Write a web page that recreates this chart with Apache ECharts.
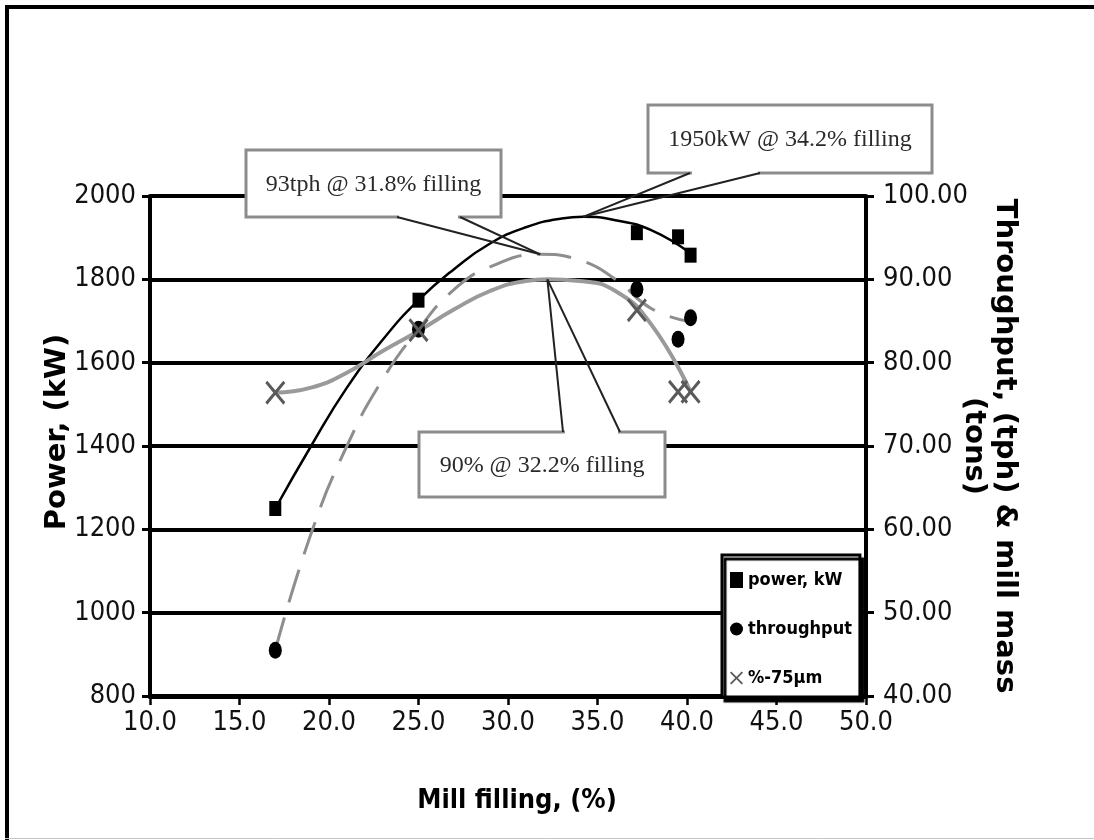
<!DOCTYPE html>
<html>
<head>
<meta charset="utf-8">
<script src="https://cdn.jsdelivr.net/npm/echarts@6/dist/echarts.min.js"></script>
<style>
  html, body { margin: 0; padding: 0; background: #fff; overflow: hidden; }
  #chart { width: 1094px; height: 840px; }
</style>
</head>
<body>
<div id="chart"></div>
<script>
// Survey points: mill filling (%) against measured power and product
const powerFilling = [17, 25, 37.2, 39.5, 40.2];
const powerKW = [1250, 1750, 1912, 1902, 1858];

const throughputFilling = [17, 25, 37.2, 39.5, 40.2];
const throughputTph = [45.5, 84, 88.8, 82.8, 85.4];

const finesFilling = [17, 25, 37.2, 39.5, 40.2];
const finesPct = [76.4, 83.9, 86.3, 76.5, 76.5];

// Fitted trend lines
const powerTrendFilling = [17, 19, 21, 23, 25, 27, 29, 31, 33, 34.2, 36, 38, 40.2];
const powerTrendKW = [1250, 1400, 1540, 1655, 1750, 1825, 1886, 1925, 1946, 1950, 1942, 1918, 1862];

const throughputTrendFilling = [17, 19, 21, 23, 25, 27, 29, 31.8, 34, 36, 38, 40];
const throughputTrendTph = [45.5, 59.5, 70, 78, 84, 88.8, 91.5, 93, 92.3, 90, 86.5, 85];

const finesTrendFilling = [17, 19, 21, 23, 25, 27, 29, 31, 32.2, 34, 36, 38, 40.2];
const finesTrendPct = [76.4, 77, 78.8, 81.4, 83.8, 86.4, 88.6, 89.8, 90, 89.8, 88.6, 84.6, 76.5];

// Optimum points called out on the chart: [filling %, value]
const powerPeak = [34.2, 1950];
const throughputPeak = [31.8, 93];
const finesPeak = [32.2, 90];

// Legend / series names
const seriesNames = ['power, kW', 'throughput', '%-75\u00b5m'];

const zip = (xs, ys) => xs.map((x, i) => [x, ys[i]]);

const NARROW = "'Liberation Sans Narrow', 'Arial Narrow', 'DejaVu Sans Condensed', sans-serif";
const WIDE_BOLD = "'DejaVu Sans', sans-serif";
const CROSS = 'path://M0,2 L2,0 L10,8 L18,0 L20,2 L12,10 L20,18 L18,20 L10,12 L2,20 L0,18 L8,10 Z';

const chart = echarts.init(document.getElementById('chart'), null, { renderer: 'canvas' });

const option = {
  animation: false,
  backgroundColor: '#fff',
  grid: { left: 150, right: 228, top: 196, bottom: 144 },
  legend: {
    orient: 'vertical',
    left: 722,
    top: 555,
    data: seriesNames,
    itemWidth: 13,
    itemHeight: 16,
    itemGap: 31,
    padding: [16, 8, 10, 8],
    backgroundColor: '#fff',
    borderColor: '#000',
    borderWidth: 3,
    shadowColor: '#000',
    shadowBlur: 1,
    shadowOffsetX: 3,
    shadowOffsetY: 4,
    textStyle: { fontFamily: NARROW, fontWeight: 'bold', fontSize: 18, color: '#000' }
  },
  xAxis: {
    type: 'value',
    min: 10,
    max: 50,
    interval: 5,
    axisLine: { show: true, onZero: false, lineStyle: { color: '#000', width: 5 } },
    axisTick: { show: true, length: 9, lineStyle: { color: '#000', width: 2.5 } },
    splitLine: { show: false },
    axisLabel: { formatter: v => v.toFixed(1), fontFamily: NARROW, fontSize: 27, color: '#111', margin: 13 },
    name: 'Mill filling, (%)',
    nameLocation: 'middle',
    nameGap: 91,
    nameMoveOverlap: false,
    nameTextStyle: { fontFamily: NARROW, fontWeight: 'bold', fontSize: 27, color: '#000', padding: [0, 0, 0, 18] }
  },
  yAxis: [
    {
      type: 'value',
      min: 800,
      max: 2000,
      interval: 200,
      position: 'left',
      axisLine: { show: true, lineStyle: { color: '#000', width: 4 } },
      axisTick: { show: true, length: 8, lineStyle: { color: '#000', width: 3 } },
      splitLine: { show: true, lineStyle: { color: '#000', width: 4 } },
      axisLabel: { formatter: v => String(v), fontFamily: NARROW, fontSize: 27, color: '#111', margin: 14 },
      name: 'Power, (kW)',
      nameLocation: 'middle',
      nameRotate: 90,
      nameGap: 78,
      nameMoveOverlap: false,
      nameTextStyle: { fontFamily: WIDE_BOLD, fontWeight: 'bold', fontSize: 29, color: '#000', padding: [0, 0, 0, 28] }
    },
    {
      type: 'value',
      min: 40,
      max: 100,
      interval: 10,
      position: 'right',
      axisLine: { show: true, lineStyle: { color: '#000', width: 4 } },
      axisTick: { show: true, length: 8, lineStyle: { color: '#000', width: 3 } },
      splitLine: { show: false },
      axisLabel: { formatter: v => v.toFixed(2), fontFamily: NARROW, fontSize: 27, color: '#111', margin: 17 },
      name: 'Throughput, (tph) & mill mass\n(tons)',
      nameLocation: 'middle',
      nameRotate: -90,
      nameGap: 92,
      nameMoveOverlap: false,
      nameTextStyle: { fontFamily: WIDE_BOLD, fontWeight: 'bold', fontSize: 29, lineHeight: 31, color: '#000' }
    }
  ],
  series: [
    {
      name: 'power trend',
      type: 'line',
      yAxisIndex: 0,
      data: zip(powerTrendFilling, powerTrendKW),
      smooth: 0.5,
      showSymbol: false,
      lineStyle: { color: '#000', width: 2.5 },
      z: 3
    },
    {
      name: 'throughput trend',
      type: 'line',
      yAxisIndex: 1,
      data: zip(throughputTrendFilling, throughputTrendTph),
      smooth: 0.5,
      showSymbol: false,
      lineStyle: { color: '#8e8e8e', width: 3, type: [34, 16] },
      z: 3
    },
    {
      name: 'fines trend',
      type: 'line',
      yAxisIndex: 1,
      data: zip(finesTrendFilling, finesTrendPct),
      smooth: 0.5,
      showSymbol: false,
      lineStyle: { color: '#9a9a9a', width: 4 },
      z: 3
    },
    {
      name: seriesNames[0],
      type: 'scatter',
      yAxisIndex: 0,
      data: zip(powerFilling, powerKW),
      symbol: 'rect',
      symbolSize: [12, 15],
      itemStyle: { color: '#000', opacity: 1 },
      z: 5
    },
    {
      name: seriesNames[1],
      type: 'scatter',
      yAxisIndex: 1,
      data: zip(throughputFilling, throughputTph),
      symbol: 'circle',
      symbolSize: [13, 17],
      itemStyle: { color: '#000', opacity: 1 },
      z: 5
    },
    {
      name: seriesNames[2],
      type: 'scatter',
      yAxisIndex: 1,
      data: zip(finesFilling, finesPct),
      symbol: CROSS,
      symbolSize: [20, 24],
      itemStyle: { color: '#5a5a5a', opacity: 1 },
      z: 6
    }
  ]
};

chart.setOption(option);

// Callout boxes pointing at the optimum of each trend
function callout(id, box, edgeY, baseX, tip, text) {
  const [bx, by, bw, bh] = box;
  return [
    {
      type: 'rect', id: id + '-box', z: 100,
      shape: { x: bx, y: by, width: bw, height: bh },
      style: { fill: '#fff', stroke: '#8c8c8c', lineWidth: 3 }
    },
    {
      type: 'line', id: id + '-gap', z: 101,
      shape: { x1: baseX[0] + 2, y1: edgeY, x2: baseX[1] - 2, y2: edgeY },
      style: { stroke: '#fff', lineWidth: 5 }
    },
    {
      type: 'line', id: id + '-l1', z: 101,
      shape: { x1: baseX[0], y1: edgeY, x2: tip[0], y2: tip[1] },
      style: { stroke: '#222', lineWidth: 2 }
    },
    {
      type: 'line', id: id + '-l2', z: 101,
      shape: { x1: baseX[1], y1: edgeY, x2: tip[0], y2: tip[1] },
      style: { stroke: '#222', lineWidth: 2 }
    },
    {
      type: 'text', id: id + '-text', z: 102,
      style: {
        text: text,
        x: bx + bw / 2,
        y: by + bh / 2 + 1,
        textAlign: 'center',
        textVerticalAlign: 'middle',
        font: "24px 'Liberation Serif', 'DejaVu Serif', serif",
        fill: '#2a2a2a'
      }
    }
  ];
}

const powerTip = chart.convertToPixel({ xAxisIndex: 0, yAxisIndex: 0 }, powerPeak);
const throughputTip = chart.convertToPixel({ xAxisIndex: 0, yAxisIndex: 1 }, throughputPeak);
const finesTip = chart.convertToPixel({ xAxisIndex: 0, yAxisIndex: 1 }, finesPeak);

const graphics = [
  // outer frame
  { type: 'line', z: 0, shape: { x1: 5, y1: 7, x2: 1094, y2: 7 }, style: { stroke: '#000', lineWidth: 4 } },
  { type: 'line', z: 0, shape: { x1: 7, y1: 5, x2: 7, y2: 840 }, style: { stroke: '#000', lineWidth: 4 } },
  { type: 'line', z: 0, shape: { x1: 5, y1: 838.5, x2: 1094, y2: 838.5 }, style: { stroke: '#c4c4c4', lineWidth: 1 } }
]
  .concat(callout('tph', [246, 150, 255, 67], 217, [397, 460], throughputTip,
    throughputPeak[1] + 'tph @ ' + throughputPeak[0] + '% filling'))
  .concat(callout('kw', [648, 105, 284, 68], 173, [690, 760], powerTip,
    powerPeak[1] + 'kW @ ' + powerPeak[0] + '% filling'))
  .concat(callout('fines', [419, 432, 246, 65], 432, [563, 620], finesTip,
    finesPeak[1] + '% @ ' + finesPeak[0] + '% filling'));

chart.setOption({ graphic: graphics });
</script>
</body>
</html>
